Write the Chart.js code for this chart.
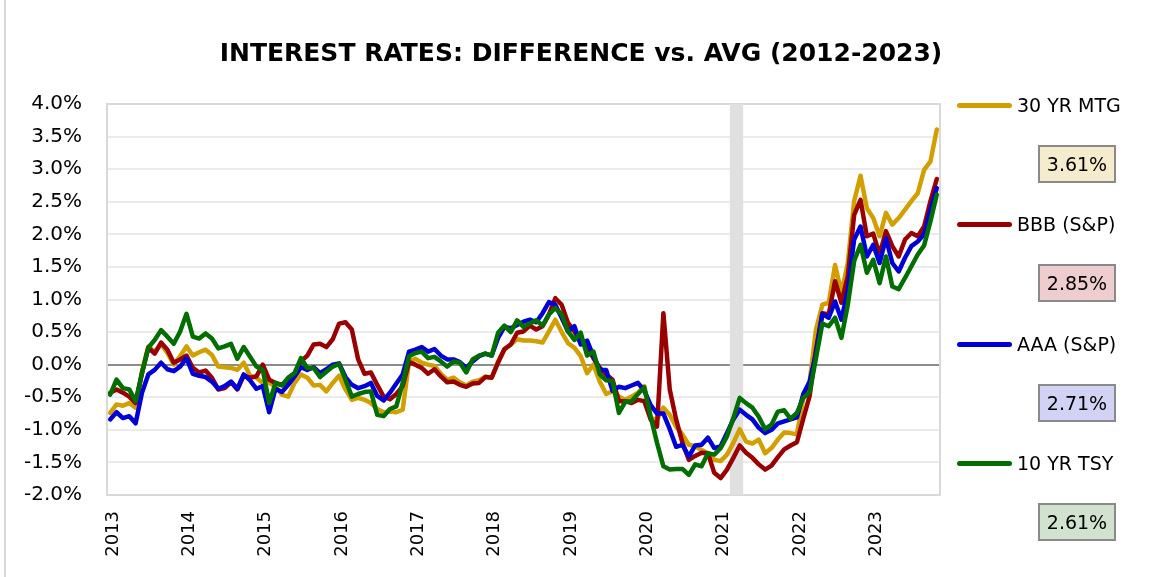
<!DOCTYPE html>
<html>
<head>
<meta charset="utf-8">
<script src="https://cdn.jsdelivr.net/npm/chart.js@4/dist/chart.umd.min.js"></script>
<style>
  body { margin: 0; background: #fff; }
  #wrap { position: relative; width: 1150px; height: 577px; overflow: hidden; font-family: "DejaVu Sans", sans-serif; }
  #edge { position: absolute; left: 4px; top: 0; width: 2px; height: 577px; background: #d9d9d9; }
  #title { position: absolute; left: 0; width: 1162px; top: 38px; text-align: center; font-weight: bold; font-size: 25px; color: #000; }
  .leg-line { position: absolute; left: 957px; width: 55px; height: 5px; border-radius: 3px; }
  .leg-text { position: absolute; left: 1017px; font-size: 19px; color: #000; white-space: nowrap; line-height: 24px; }
  .leg-box { position: absolute; left: 1038px; width: 74px; height: 34px; border: 2px solid #8a8a8a; font-size: 19px; line-height: 34px; text-align: center; color: #000; }
</style>
</head>
<body>
<div id="wrap">
  <div id="edge"></div>
  <canvas id="chart" width="1150" height="577"></canvas>
  <div id="title">INTEREST RATES: DIFFERENCE vs. AVG (2012-2023)</div>
  <div id="legend"></div>
</div>
<script>
// DONNEES : ecart au taux moyen 2012-2023, en %, mensuel jan 2013 -> nov 2023

const startYear = 2013;
const monthCount = 131;

const seriesNames = ['30 YR MTG', 'BBB (S&P)', 'AAA (S&P)', '10 YR TSY'];

const mtg30 = [
  -0.74, -0.61, -0.63, -0.59, -0.66, -0.10, 0.28, 0.20, 0.31, 0.18, 0.00, 0.13,
  0.28, 0.14, 0.19, 0.23, 0.15, -0.03, -0.04, -0.05, -0.08, 0.03, -0.17, -0.20,
  -0.28, -0.28, -0.33, -0.46, -0.49, -0.28, -0.15, -0.20, -0.32, -0.31, -0.41, -0.28,
  -0.17, -0.38, -0.54, -0.51, -0.54, -0.59, -0.68, -0.73, -0.72, -0.73, -0.69, 0.05,
  0.09, 0.03, 0.00, -0.02, -0.14, -0.23, -0.20, -0.27, -0.32, -0.26, -0.24, -0.18,
  -0.20, 0.05, 0.23, 0.31, 0.39, 0.37, 0.37, 0.36, 0.34, 0.51, 0.69, 0.50,
  0.33, 0.26, 0.13, -0.13, 0.00, -0.26, -0.45, -0.41, -0.49, -0.54, -0.49, -0.43,
  -0.33, -0.82, -0.84, -0.66, -0.77, -0.95, -1.07, -1.23, -1.25, -1.31, -1.36, -1.46,
  -1.48, -1.38, -1.20, -0.99, -1.18, -1.21, -1.15, -1.36, -1.28, -1.15, -1.04, -1.05,
  -1.07, -0.51, -0.26, 0.54, 0.92, 0.95, 1.53, 1.10, 1.56, 2.51, 2.90, 2.40,
  2.25, 1.97, 2.33, 2.15, 2.25, 2.38, 2.51, 2.63, 2.99, 3.12, 3.61
];

const bbb = [
  -0.43, -0.38, -0.43, -0.49, -0.59, -0.13, 0.26, 0.17, 0.34, 0.23, 0.03, 0.08,
  0.14, -0.05, -0.12, -0.09, -0.20, -0.38, -0.36, -0.27, -0.38, -0.17, -0.20, -0.18,
  0.00, -0.23, -0.28, -0.31, -0.23, -0.13, 0.05, 0.14, 0.31, 0.32, 0.27, 0.39,
  0.63, 0.65, 0.54, 0.08, -0.14, -0.12, -0.31, -0.49, -0.53, -0.45, -0.33, 0.04,
  0.00, -0.05, -0.14, -0.07, -0.18, -0.27, -0.26, -0.31, -0.34, -0.29, -0.28, -0.19,
  -0.20, 0.03, 0.24, 0.31, 0.49, 0.51, 0.60, 0.54, 0.59, 0.77, 1.02, 0.92,
  0.64, 0.51, 0.33, 0.28, 0.10, -0.05, -0.15, -0.23, -0.56, -0.56, -0.59, -0.54,
  -0.56, -0.84, -0.95, 0.79, -0.38, -0.84, -1.20, -1.46, -1.40, -1.35, -1.36, -1.66,
  -1.74, -1.61, -1.43, -1.24, -1.35, -1.43, -1.53, -1.61, -1.55, -1.42, -1.30, -1.24,
  -1.19, -0.83, -0.48, 0.23, 0.79, 0.77, 1.28, 0.95, 1.36, 2.30, 2.53, 1.97,
  2.01, 1.69, 2.05, 1.82, 1.66, 1.92, 2.02, 1.97, 2.12, 2.51, 2.85
];

const aaa = [
  -0.84, -0.73, -0.82, -0.79, -0.90, -0.43, -0.15, -0.08, 0.03, -0.07, -0.10, -0.03,
  0.10, -0.14, -0.17, -0.19, -0.26, -0.37, -0.33, -0.26, -0.37, -0.15, -0.24, -0.37,
  -0.33, -0.73, -0.37, -0.42, -0.31, -0.18, -0.04, -0.08, -0.04, -0.13, -0.07, 0.00,
  0.02, -0.19, -0.31, -0.36, -0.33, -0.28, -0.48, -0.55, -0.43, -0.29, -0.15, 0.20,
  0.23, 0.27, 0.20, 0.24, 0.14, 0.08, 0.08, 0.04, -0.05, 0.05, 0.13, 0.17,
  0.14, 0.41, 0.58, 0.56, 0.61, 0.66, 0.69, 0.65, 0.79, 0.96, 0.92, 0.72,
  0.51, 0.59, 0.31, 0.37, 0.13, -0.08, -0.08, -0.40, -0.34, -0.36, -0.32, -0.28,
  -0.40, -0.62, -0.75, -0.75, -0.99, -1.26, -1.23, -1.41, -1.24, -1.23, -1.12, -1.28,
  -1.25, -1.05, -0.84, -0.69, -0.77, -0.84, -0.97, -1.05, -1.00, -0.90, -0.87, -0.84,
  -0.81, -0.45, -0.26, 0.18, 0.78, 0.72, 0.97, 0.69, 1.15, 1.92, 2.12, 1.66,
  1.84, 1.56, 1.94, 1.56, 1.43, 1.64, 1.82, 1.89, 2.00, 2.38, 2.71
];

const tsy10 = [
  -0.46, -0.23, -0.36, -0.38, -0.56, -0.13, 0.26, 0.38, 0.53, 0.43, 0.32, 0.51,
  0.78, 0.43, 0.40, 0.48, 0.40, 0.25, 0.28, 0.32, 0.09, 0.27, 0.12, -0.03,
  -0.08, -0.59, -0.28, -0.32, -0.20, -0.13, 0.10, -0.05, -0.05, -0.19, -0.11, -0.03,
  0.01, -0.23, -0.49, -0.45, -0.42, -0.41, -0.77, -0.79, -0.68, -0.64, -0.28, 0.13,
  0.18, 0.20, 0.10, 0.12, 0.05, -0.03, 0.05, 0.03, -0.12, 0.08, 0.14, 0.17,
  0.14, 0.49, 0.60, 0.50, 0.68, 0.58, 0.63, 0.68, 0.60, 0.77, 0.87, 0.77,
  0.51, 0.38, 0.49, 0.14, 0.20, -0.15, -0.24, -0.25, -0.74, -0.57, -0.56, -0.45,
  -0.35, -0.80, -1.20, -1.56, -1.61, -1.60, -1.60, -1.69, -1.53, -1.56, -1.36, -1.38,
  -1.28, -1.10, -0.82, -0.51, -0.59, -0.66, -0.80, -0.99, -0.92, -0.72, -0.70, -0.83,
  -0.74, -0.51, -0.42, 0.10, 0.63, 0.59, 0.72, 0.41, 0.92, 1.59, 1.84, 1.41,
  1.61, 1.25, 1.66, 1.20, 1.16, 1.33, 1.51, 1.69, 1.83, 2.20, 2.61
];

// bande grise (mois surlignes)
const shadeMonths = ['2021-03', '2021-04'];

// axe Y
const yMin = -2;
const yMax = 4;
const yStep = 0.5;

// STYLE
const lineColors = ['#D29F00', '#990000', '#0000D6', '#006E00'];
const boxColors = ['#F5ECCD', '#EDCDCD', '#D2D2F5', '#D1E3CF'];

// labels mensuels
let labels = [];
for (let i = 0; i < monthCount; i++) {
    let y = startYear + Math.floor(i / 12);
    let m = (i % 12) + 1;
    labels.push(y + '-' + (m < 10 ? '0' + m : m));
}

let shade = labels.map(l => shadeMonths.includes(l) ? [yMin, yMax] : null);

let allSeries = [mtg30, bbb, aaa, tsy10];

// cadre du graphique (haut + droite)
const framePlugin = {
    id: 'frame',
    beforeDatasetsDraw(chart) {
        const a = chart.chartArea;
        const c = chart.ctx;
        c.save();
        c.strokeStyle = '#d9d9d9';
        c.lineWidth = 2;
        c.strokeRect(a.left, a.top, a.right - a.left, a.bottom - a.top);
        c.restore();
    }
};

let datasets = allSeries.map((s, i) => ({
    type: 'line',
    label: seriesNames[i],
    data: s,
    borderColor: lineColors[i],
    backgroundColor: lineColors[i],
    borderWidth: 4.5,
    pointRadius: 0,
    tension: 0,
    borderJoinStyle: 'round',
    borderCapStyle: 'round',
    order: 4 - i
}));

datasets.push({
    type: 'bar',
    label: 'shade',
    data: shade,
    backgroundColor: '#e0e0e0',
    borderWidth: 0,
    barPercentage: 1,
    categoryPercentage: 1,
    order: 10
});

let ctx = document.getElementById('chart').getContext('2d');

let chart = new Chart(ctx, {
    type: 'line',
    data: { labels: labels, datasets: datasets },
    options: {
        responsive: false,
        animation: false,
        devicePixelRatio: 1,
        layout: { padding: { top: 104, right: 210, bottom: 0, left: 0 } },
        plugins: {
            legend: { display: false },
            title: { display: false },
            tooltip: { enabled: false }
        },
        scales: {
            x: {
                offset: true,
                grid: { display: false, drawTicks: false },
                border: { color: '#d9d9d9', width: 2 },
                ticks: {
                    autoSkip: false,
                    minRotation: 90,
                    maxRotation: 90,
                    padding: 16,
                    labelOffset: 3,
                    color: '#000',
                    font: { family: 'DejaVu Sans', size: 18 },
                    callback: function (value) {
                        let lab = this.getLabelForValue(value);
                        return lab.endsWith('-01') ? lab.slice(0, 4) : '';
                    }
                },
                afterFit: function (scale) { scale.height = 82; }
            },
            y: {
                min: yMin,
                max: yMax,
                grid: {
                    drawTicks: false,
                    lineWidth: 2,
                    color: (c) => (c.tick && c.tick.value === 0) ? '#8c8c8c' : '#ebebeb'
                },
                border: { color: '#d9d9d9', width: 2 },
                ticks: {
                    stepSize: yStep,
                    padding: 25,
                    color: '#000',
                    font: { family: 'DejaVu Sans', size: 20 },
                    callback: (v) => v.toFixed(1) + '%'
                },
                afterFit: function (scale) { scale.width = 107; }
            }
        }
    },
    plugins: [framePlugin]
});

// LEGENDE + valeurs finales
const legendTops = [105, 224, 344, 463];
let legend = document.getElementById('legend');
seriesNames.forEach((name, i) => {
    let yMid = legendTops[i];
    let line = document.createElement('div');
    line.className = 'leg-line';
    line.style.top = (yMid - 2) + 'px';
    line.style.background = lineColors[i];
    legend.appendChild(line);

    let txt = document.createElement('div');
    txt.className = 'leg-text';
    txt.style.top = (yMid - 12) + 'px';
    txt.textContent = name;
    legend.appendChild(txt);

    let s = allSeries[i];
    let box = document.createElement('div');
    box.className = 'leg-box';
    box.style.top = (yMid + 40) + 'px';
    box.style.background = boxColors[i];
    box.textContent = s[s.length - 1].toFixed(2) + '%';
    legend.appendChild(box);
});
</script>
</body>
</html>
